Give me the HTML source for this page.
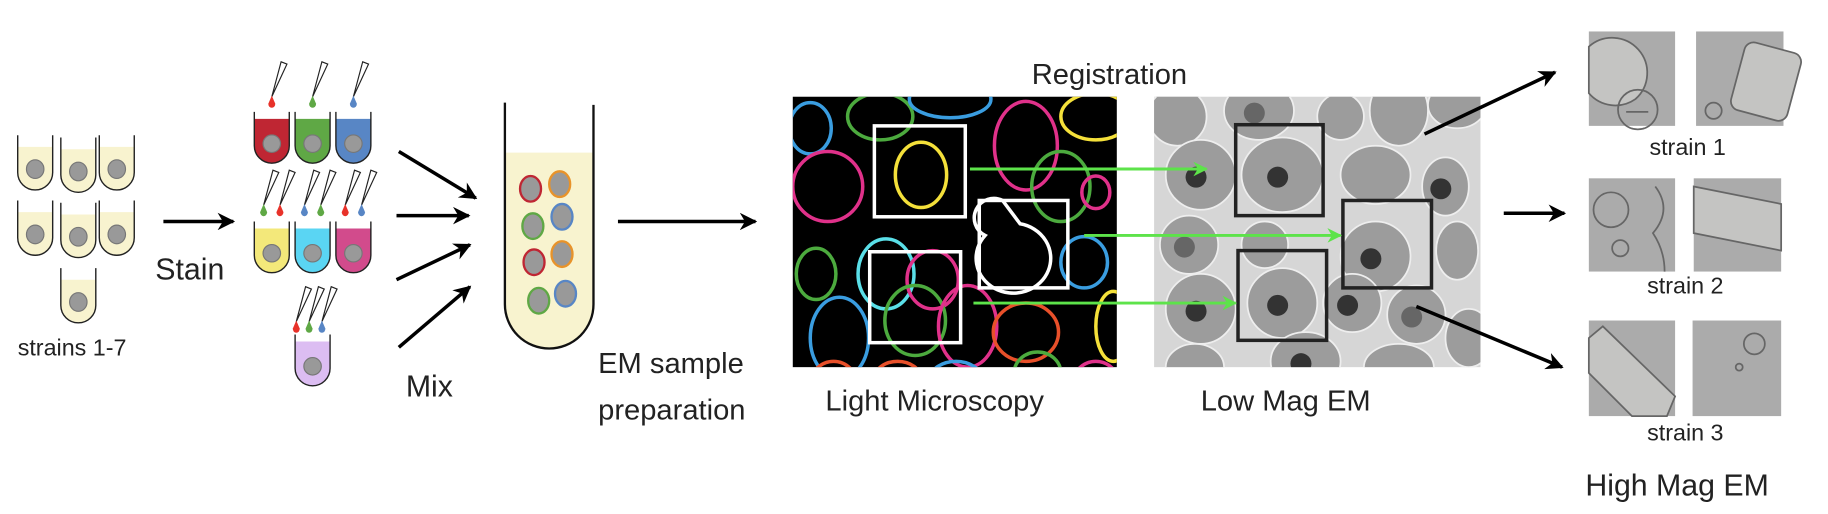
<!DOCTYPE html>
<html><head><meta charset="utf-8"><style>
html,body{margin:0;padding:0;background:#fff;}
svg{display:block;font-family:"Liberation Sans",sans-serif;}
</style></head><body>
<svg width="1828" height="514" viewBox="0 0 1568 441">
<defs>
<marker id="ah" viewBox="0 0 10 10" refX="9" refY="5" markerWidth="5" markerHeight="5" orient="auto"><path d="M0,0 L10,5 L0,10 L3,5z" fill="#000"/></marker>
<marker id="ag" viewBox="0 0 10 10" refX="9" refY="5" markerWidth="5" markerHeight="5" orient="auto"><path d="M0,0 L10,5 L0,10 L3,5z" fill="#5de34a"/></marker>
<clipPath id="lmclip"><rect x="680" y="83" width="278" height="232"/></clipPath>
<clipPath id="emclip"><rect x="990" y="83" width="280" height="232"/></clipPath>
</defs>

<g>
<g id="tubes"></g>
<text x="15" y="305" font-size="20" fill="#222">strains 1-7</text>
</g>
<line x1="140" y1="190" x2="200" y2="190" stroke="#000" stroke-width="3" marker-end="url(#ah)"/>
<text x="133" y="240" font-size="26" fill="#222">Stain</text>

<g id="ctubes"></g>

<g stroke="#000" stroke-width="3">
<line x1="342" y1="130" x2="408" y2="170" marker-end="url(#ah)"/>
<line x1="340" y1="185" x2="402" y2="185" marker-end="url(#ah)"/>
<line x1="340" y1="240" x2="403" y2="210" marker-end="url(#ah)"/>
<line x1="342" y1="298" x2="403" y2="246" marker-end="url(#ah)"/>
</g>
<text x="348" y="340" font-size="26" fill="#222">Mix</text>

<g>
<path d="M433,131 L509,131 L509,261 A38,38 0 0 1 433,261 Z" fill="#f8f3cf"/>
<path d="M433,88 L433,261 A38,38 0 0 0 509,261 L509,90" fill="none" stroke="#111" stroke-width="2"/>
<g id="mixcells"></g>
</g>
<line x1="530" y1="190" x2="648" y2="190" stroke="#000" stroke-width="3" marker-end="url(#ah)"/>
<text x="513" y="320" font-size="25" fill="#222">EM sample</text>
<text x="513" y="360" font-size="25" fill="#222">preparation</text>

<g>
<rect x="680" y="83" width="278" height="232" fill="#000"/>
<g id="lm" clip-path="url(#lmclip)" fill="none" stroke-width="3"></g>
<g fill="none" stroke="#fff" stroke-width="3">
<rect x="750" y="108" width="78" height="78"/>
<rect x="840" y="172" width="76" height="75"/>
<rect x="746" y="216" width="78" height="78"/>
<path d="M860,172 a15,15 0 1 0 -15,30 a32,30 0 1 0 30,-10 z"/>
</g>
</g>
<text x="708" y="352" font-size="25" fill="#222">Light Microscopy</text>
<text x="885" y="72" font-size="25" fill="#222">Registration</text>

<g>
<rect x="990" y="83" width="280" height="232" fill="#d6d6d6"/>
<g id="em" clip-path="url(#emclip)"></g>
<g fill="none" stroke="#222" stroke-width="3">
<rect x="1060" y="107" width="75" height="78"/>
<rect x="1152" y="172" width="76" height="75"/>
<rect x="1062" y="215" width="76" height="77"/>
</g>
</g>
<text x="1030" y="352" font-size="25" fill="#222">Low Mag EM</text>

<g stroke="#5de34a" stroke-width="2.5">
<line x1="832" y1="145" x2="1035" y2="145" marker-end="url(#ag)"/>
<line x1="930" y1="202" x2="1150" y2="202" marker-end="url(#ag)"/>
<line x1="835" y1="260" x2="1060" y2="260" marker-end="url(#ag)"/>
</g>

<g stroke="#000" stroke-width="3">
<line x1="1222" y1="115" x2="1334" y2="62" marker-end="url(#ah)"/>
<line x1="1290" y1="183" x2="1342" y2="183" marker-end="url(#ah)"/>
<line x1="1215" y1="263" x2="1340" y2="315" marker-end="url(#ah)"/>
</g>

<g fill="#ababab">
<rect x="1363" y="27" width="74" height="81"/><rect x="1455" y="27" width="75" height="81"/>
<rect x="1363" y="153" width="74" height="80"/><rect x="1453" y="153" width="75" height="80"/>
<rect x="1363" y="275" width="74" height="82"/><rect x="1452" y="275" width="76" height="82"/>
<g fill="#c4c4c2" stroke="#666" stroke-width="1.5">
<path d="M1363,40 a30,30 0 0 1 40,45 a30,30 0 0 1 -40,-5 z"/>
<rect x="1490" y="40" width="50" height="60" rx="8" transform="rotate(15 1515 70)"/>
<path d="M1453,160 L1528,175 L1528,215 L1453,200 z"/>
<path d="M1363,290 L1375,280 L1437,340 L1430,357 L1400,357 L1363,320 z"/>
</g>
<g fill="none" stroke="#666" stroke-width="1.5">
<circle cx="1405" cy="94" r="17"/><line x1="1395" y1="96" x2="1414" y2="96"/>
<circle cx="1470" cy="95" r="7"/>
<circle cx="1382" cy="180" r="15"/><path d="M1420,160 q15,20 -2,40 q10,15 10,33"/>
<circle cx="1390" cy="213" r="7"/>
<circle cx="1505" cy="295" r="9"/><circle cx="1492" cy="315" r="3"/>
</g>
</g>
<text x="1415" y="133" font-size="20" fill="#222">strain 1</text>
<text x="1413" y="252" font-size="20" fill="#222">strain 2</text>
<text x="1413" y="378" font-size="20" fill="#222">strain 3</text>
<text x="1360" y="425" font-size="26" fill="#222">High Mag EM</text>

<script>
var NS='http://www.w3.org/2000/svg';
function mk(p,tag,a){var e=document.createElementNS(NS,tag);for(var k in a)e.setAttribute(k,a[k]);p.appendChild(e);return e;}
function tube(p,x,y,w,h,liq,fill){
  var r=w/2;
  mk(p,'path',{d:'M'+x+','+liq+' L'+(x+w)+','+liq+' L'+(x+w)+','+(y+h-r)+' A'+r+','+r+' 0 0 1 '+x+','+(y+h-r)+' Z',fill:fill});
  mk(p,'path',{d:'M'+x+','+y+' L'+x+','+(y+h-r)+' A'+r+','+r+' 0 0 0 '+(x+w)+','+(y+h-r)+' L'+(x+w)+','+y,fill:'none',stroke:'#222','stroke-width':1.2});
  mk(p,'ellipse',{cx:x+w/2,cy:y+h*0.62,rx:w*0.25,ry:h*0.17,fill:'#999',stroke:'#777'});
}
var tg=document.getElementById('tubes');

[[15,116],[52,118],[85,116],[15,172],[52,174],[85,172],[52,230]].forEach(function(t){tube(tg,t[0],t[1],30,47,t[1]+10,'#f8f3cf');});
var cg=document.getElementById('ctubes');
var ct=[[218,96,'#bf2633'],[253,96,'#5fa845'],[288,96,'#5886c5'],[218,190,'#f3e87a'],[253,190,'#5ad5f3'],[288,190,'#d24b8c'],[253,287,'#dcbdf2']];
ct.forEach(function(t){tube(cg,t[0],t[1],30,44,t[1]+6,t[2]);});
var pip=[[233,88,'#e8322a'],[268,88,'#5fa845'],[303,88,'#5886c5'],[226,181,'#5fa845'],[240,181,'#e8322a'],[261,181,'#5886c5'],[275,181,'#5fa845'],[296,181,'#e8322a'],[310,181,'#5886c5'],[254,281,'#e8322a'],[265,281,'#5fa845'],[276,281,'#5886c5']];
pip.forEach(function(p){
  mk(cg,'path',{d:'M'+p[0]+','+(p[1]-5)+' L'+(p[0]+8)+','+(p[1]-35)+' L'+(p[0]+13)+','+(p[1]-33)+' Z',fill:'#fff',stroke:'#222','stroke-width':1});
  mk(cg,'path',{d:'M'+(p[0]-3)+','+(p[1]+1)+' a3,3.5 0 1 0 6,0 L'+p[0]+','+(p[1]-6)+' z',fill:p[2]});
});
var mc=document.getElementById('mixcells');
[[455,162,'#bf2633'],[480,158,'#e8932a'],[457,194,'#5fa845'],[482,186,'#5886c5'],[458,225,'#bf2633'],[482,218,'#e8932a'],[462,258,'#5fa845'],[485,252,'#5886c5']].forEach(function(c){
  mk(mc,'ellipse',{cx:c[0],cy:c[1],rx:9,ry:11,fill:'#999',stroke:c[2],'stroke-width':2});
});
var lm=document.getElementById('lm');
var lmc=[[695,110,18,22,'#3a9de0'],[755,100,28,20,'#4caa3e'],[815,85,35,16,'#3a9de0'],[880,125,27,38,'#e0318a'],[940,100,30,20,'#f4e03a'],[910,160,25,30,'#4caa3e'],[940,165,12,14,'#e0318a'],[710,160,30,30,'#e0318a'],[700,235,17,22,'#4caa3e'],[760,235,24,30,'#5adfe8'],[800,240,22,25,'#e0318a'],[930,225,20,22,'#3a9de0'],[720,290,25,35,'#3a9de0'],[785,275,26,30,'#4caa3e'],[830,280,25,35,'#e0318a'],[880,285,28,25,'#e8502a'],[955,280,15,30,'#f4e03a'],[715,330,20,20,'#e8502a'],[770,325,20,15,'#e8502a'],[820,325,22,15,'#3a9de0'],[890,320,20,18,'#4caa3e'],[940,330,20,20,'#e0318a'],[790,150,22,28,'#f4e03a']];
lmc.forEach(function(c){mk(lm,'ellipse',{cx:c[0],cy:c[1],rx:c[2],ry:c[3],stroke:c[4]});});
var em=document.getElementById('em');
var emc=[[1010,100,25,25,0],[1080,95,30,25,1],[1150,100,20,20,0],[1200,95,25,30,0],[1250,90,25,20,0],[1030,150,30,30,1],[1100,150,35,32,1],[1180,150,30,25,0],[1240,160,20,25,1],[1020,210,25,25,1],[1085,210,20,20,0],[1180,220,30,30,1],[1250,215,18,25,0],[1030,265,30,30,1],[1100,260,30,30,1],[1160,260,25,25,1],[1215,270,25,25,1],[1025,315,25,20,0],[1120,310,30,25,1],[1200,315,30,20,0],[1260,290,20,25,0]];
emc.forEach(function(c){
  mk(em,'ellipse',{cx:c[0],cy:c[1],rx:c[2],ry:c[3],fill:'#9c9c9c',stroke:'#eee','stroke-width':1.5});
  if(c[4])mk(em,'circle',{cx:c[0]-4,cy:c[1]+2,r:9,fill:c[0]%3?'#333':'#666'});
});
</script>
</svg>
</body></html>
